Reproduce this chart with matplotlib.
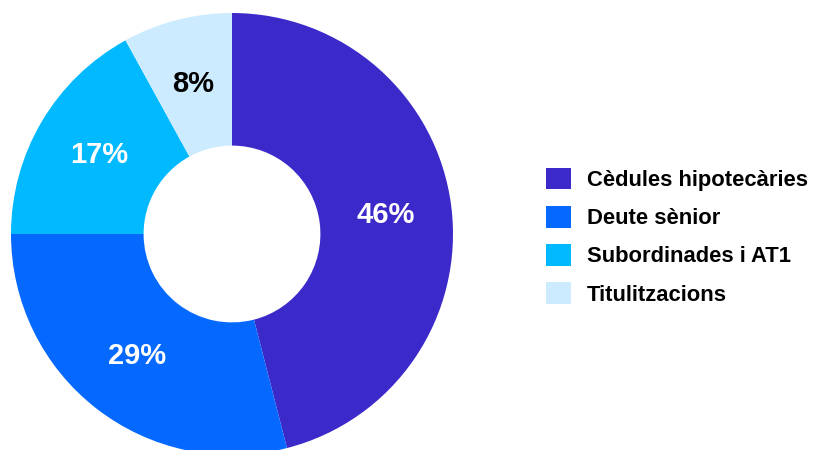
import matplotlib
matplotlib.use("Agg")
from matplotlib import pyplot as plt
from matplotlib.patches import Patch
import numpy as np

labels = ["Cèdules hipotecàries", "Deute sènior", "Subordinades i AT1", "Titulitzacions"]
values = [46, 29, 17, 8]
colors = ["#3C29C9", "#0569FF", "#00B9FF", "#CCEBFF"]
pct_colors = ["white", "white", "white", "black"]

plt.rcParams['font.family'] = ['Liberation Sans', 'DejaVu Sans']

fig = plt.figure(figsize=(8.14, 4.5), dpi=100)
ax = fig.add_axes([11/814, -5/450, 442/814, 442/450])

wedges, texts = ax.pie(values, colors=colors, startangle=90, counterclock=False,
                       radius=1, wedgeprops=dict(width=0.6, linewidth=0))
# percentage labels in the middle of the ring
for w, v, c in zip(wedges, values, pct_colors):
    ang = np.deg2rad((w.theta1 + w.theta2) / 2)
    ax.text(0.7 * np.cos(ang), 0.7 * np.sin(ang), f"{v}%", ha='center', va='center',
            color=c, fontsize=21, fontweight='bold')
ax.set_xlim(-1, 1)
ax.set_ylim(-1, 1)
ax.set_aspect('equal')
ax.axis('off')

handles = [Patch(facecolor=c, edgecolor='none') for c in colors]
fig.legend(handles, labels, loc='center left', bbox_to_anchor=(546/814, 0.474),
           frameon=False, borderpad=0, borderaxespad=0,
           prop=dict(size=15.8, weight='bold'), handlelength=1.14, handleheight=1.14,
           handletextpad=0.73, labelspacing=0.68)

fig.savefig("out.png", dpi=100)
